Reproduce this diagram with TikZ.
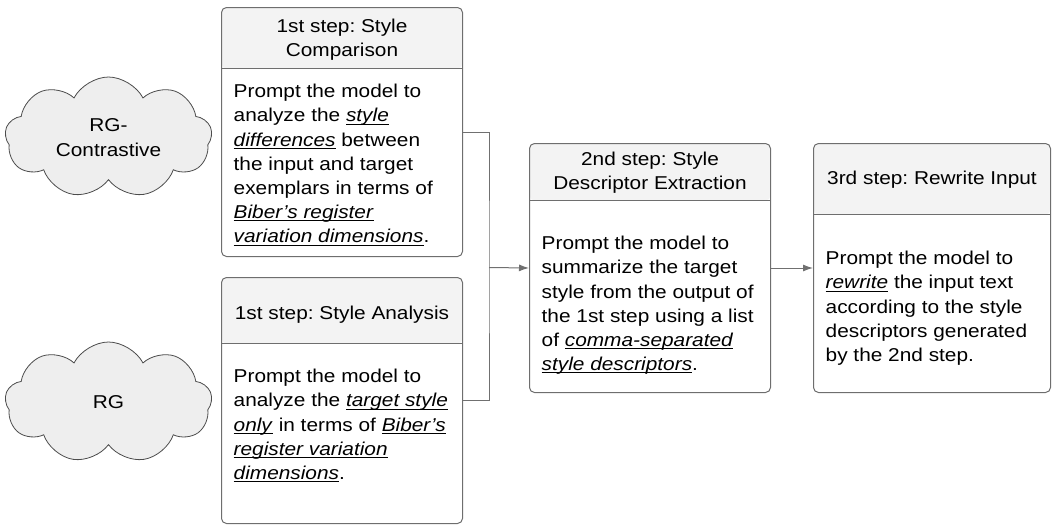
\documentclass[tikz,border=0pt]{standalone}
\usepackage{fontspec}
\setmainfont[FakeStretch=1.12]{Liberation Sans}
\usepackage{tikz}
\usepackage{xcolor}
\usetikzlibrary{shapes.symbols, arrows.meta}

\definecolor{boxline}{HTML}{6E6E6E}
\definecolor{headfill}{HTML}{F3F3F3}
\definecolor{cloudfill}{HTML}{EEEEEE}
\definecolor{linkgray}{HTML}{707070}

% italic text with an underline at a fixed depth
\newsavebox{\ulbox}
\newcommand{\ulit}[1]{\sbox{\ulbox}{\textit{#1}}%
    \rlap{\rule[-2.6pt]{\wd\ulbox}{0.9pt}}\usebox{\ulbox}}

\frenchspacing

\begin{document}
\begin{tikzpicture}[x=1pt, y=-1pt, >={Latex[length=10pt,width=7pt]},
    font=\fontsize{18.6}{24.2}\selectfont,
    stepbox/.style n args={3}{draw=boxline, line width=1pt, rounded corners=5pt,
        fill=white, minimum width=#1, minimum height=#2, anchor=north west, inner sep=0,
        path picture={
            \fill[headfill] (path picture bounding box.north west)
                rectangle ([yshift=-#3]path picture bounding box.north east);
            \draw[boxline, line width=1pt] ([yshift=-#3]path picture bounding box.north west)
                -- ([yshift=-#3]path picture bounding box.north east);
        }},
    headtext/.style={align=center, inner sep=0},
    bodytext/.style={align=left, anchor=north west, inner sep=0},
    rgcloud/.style={cloud, cloud puffs=9, cloud puff arc=125, aspect=1.7,
        draw=black!70, fill=cloudfill, line width=0.8pt,
        minimum width=207pt, minimum height=121pt, inner sep=0, align=center},
    link/.style={draw=linkgray, line width=1pt}]

    % Fix the canvas
    \useasboundingbox (0,0) rectangle (1052,525);

    % The two clouds
    \node[rgcloud] (rgc) at (108.5,137.5) {RG-\\Contrastive};
    \node[rgcloud] (rg) at (108.5,402.5) {RG};

    % First steps
    \node[stepbox={241pt}{249pt}{61pt}] (cmp) at (221,7) {};
    \node[headtext] (cmph) at ([yshift=-33pt]cmp.north) {1st step: Style\\Comparison};
    \node[bodytext] (cmpt) at ([xshift=12.5pt, yshift=-77pt]cmp.north west)
        {Prompt the model to\\
         analyze the \ulit{style}\\
         \ulit{differences} between\\
         the input and target\\
         exemplars in terms of\\
         \ulit{Biber’s register}\\
         \ulit{variation dimensions}.};

    \node[stepbox={241pt}{246pt}{66pt}] (ana) at (221,277) {};
    \node[headtext] (anah) at ([yshift=-38pt]ana.north) {1st step: Style Analysis};
    \node[bodytext] (anat) at ([xshift=12.5pt, yshift=-92pt]ana.north west)
        {Prompt the model to\\
         analyze the \ulit{target style}\\
         \ulit{only} in terms of \ulit{Biber’s}\\
         \ulit{register variation}\\
         \ulit{dimensions}.};

    % Second step
    \node[stepbox={241pt}{249pt}{57pt}] (ext) at (529,143) {};
    \node[headtext] (exth) at ([yshift=-30pt]ext.north) {2nd step: Style\\Descriptor Extraction};
    \node[bodytext] (extt) at ([xshift=12.5pt, yshift=-93pt]ext.north west)
        {Prompt the model to\\
         summarize the target\\
         style from the output of\\
         the 1st step using a list\\
         of \ulit{comma-separated}\\
         \ulit{style descriptors}.};

    % Third step
    \node[stepbox={237pt}{249pt}{71pt}] (rew) at (813,143) {};
    \node[headtext] (rewh) at ([yshift=-37pt]rew.north) {3rd step: Rewrite Input};
    \node[bodytext] (rewt) at ([xshift=12.5pt, yshift=-108pt]rew.north west)
        {Prompt the model to\\
         \ulit{rewrite} the input text\\
         according to the style\\
         descriptors generated\\
         by the 2nd step.};

    % Connectors
    \coordinate (join) at (489,267.5);
    \draw[link] (cmp.east) -| (join) |- (ana.east);
    \draw[link, ->] (join) -- (ext.west);
    \draw[link, ->] (ext.east) -- (rew.west);

\end{tikzpicture}
\end{document}
